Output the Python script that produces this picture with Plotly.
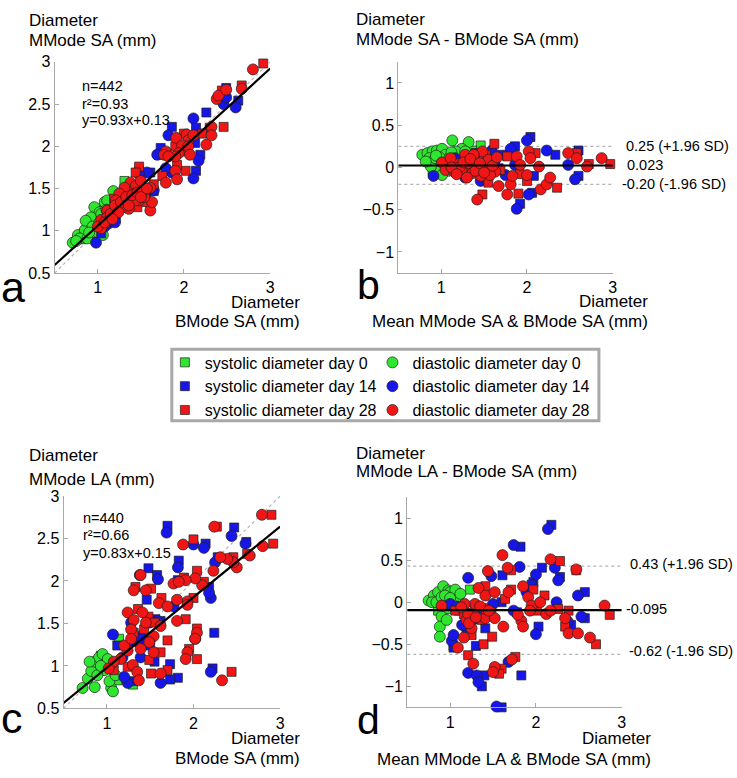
import plotly.graph_objects as go

W, H = 737, 778
FONT = "Liberation Sans, Arial, Helvetica, sans-serif"

# ---------------- data ----------------
SERIES = ["systolic diameter day 0", "diastolic diameter day 0",
          "systolic diameter day 14", "diastolic diameter day 14",
          "systolic diameter day 28", "diastolic diameter day 28"]
COLORS = ["#2fe62f", "#2fe62f", "#1616e8", "#1616e8", "#f01616", "#f01616"]
SYMBOLS = ["square", "circle", "square", "circle", "square", "circle"]

# panel a: MMode SA vs BMode SA
A_SYS0_X = [1.31, 1.13, 1.08, 0.90, 0.85, 1.00, 0.81, 1.04, 0.94]
A_SYS0_Y = [1.59, 1.34, 1.28, 1.03, 0.97, 1.13, 0.90, 1.05, 0.97]
A_DIA0_X = [0.71, 0.77, 0.83, 0.88, 0.92, 0.96, 1.02, 1.08, 1.18, 1.11, 0.85, 0.79, 0.88, 0.96, 1.06, 0.98, 0.92, 1.04, 0.86, 0.75, 1.00,
            0.94, 1.02, 0.90, 1.10]
A_DIA0_Y = [0.86, 0.95, 0.93, 1.04, 1.13, 1.28, 1.22, 1.34, 1.47, 1.36, 1.01, 0.91, 0.91, 1.01, 0.95, 1.09, 1.16, 1.20, 1.12, 0.88, 0.98,
            1.05, 1.10, 0.98, 1.25]
A_SYS14_X = [1.86, 2.26, 2.49, 2.63, 2.14, 2.13, 2.19, 2.14, 1.73, 1.71, 1.61, 1.48, 1.65, 1.27, 1.15, 1.04, 1.21, 1.50]
A_SYS14_Y = [2.23, 2.40, 2.69, 2.54, 2.22, 2.04, 1.90, 1.71, 1.98, 1.90, 1.69, 1.71, 1.47, 1.32, 1.13, 0.97, 1.15, 1.55]
A_DIA14_X = [1.82, 2.11, 2.46, 2.60, 2.49, 2.17, 2.11, 1.86, 1.79, 1.69, 1.57, 1.11, 0.98, 1.13, 1.23, 1.65, 1.48,
             1.20, 1.30, 1.40, 1.55, 1.08]
A_DIA14_Y = [2.13, 2.33, 2.50, 2.46, 2.58, 1.83, 1.62, 1.69, 1.74, 1.90, 1.69, 1.24, 0.86, 1.09, 1.24, 1.48, 1.67,
             1.10, 1.28, 1.32, 1.42, 1.05]
A_SYS28_X = [2.92, 2.67, 2.44, 2.46, 2.30, 2.00, 2.21, 2.03, 2.02, 1.92, 1.90, 1.75, 1.48, 1.44, 1.32, 1.19, 1.61, 1.54, 1.65, 1.46, 1.27, 1.08, 1.38, 1.54]
A_SYS28_Y = [2.98, 2.72, 2.66, 2.23, 2.22, 2.15, 2.15, 1.94, 1.71, 1.78, 2.00, 1.65, 1.76, 1.69, 1.47, 1.38, 1.29, 1.34, 1.55, 1.28, 1.40, 1.09, 1.36, 1.49]
A_DIA28_X = [2.80, 2.38, 2.40, 2.49, 2.67, 2.32, 2.32, 2.26, 2.03, 2.05, 1.91, 1.98, 1.94, 1.90, 2.05, 2.07, 2.11, 1.79, 1.77, 1.82,
             1.90, 1.92, 1.79, 1.61, 1.63, 1.38, 1.44, 1.42, 1.34, 1.31, 1.25, 1.21, 1.19, 1.11, 1.04, 1.04, 1.31, 1.48, 1.54, 1.36,
             1.29, 1.11, 1.00, 1.61, 1.50, 1.44, 1.15, 1.20, 1.27, 1.33, 1.40, 1.46, 1.52, 1.57, 1.24, 1.08, 1.17, 1.36, 1.50]
A_DIA28_Y = [2.91, 2.56, 2.60, 2.67, 2.68, 2.23, 2.13, 2.02, 2.14, 2.07, 2.10, 2.01, 1.92, 1.88, 2.00, 1.90, 2.13, 1.94, 1.90, 1.88,
             1.71, 1.61, 1.57, 1.24, 1.34, 1.57, 1.53, 1.44, 1.47, 1.51, 1.44, 1.36, 1.26, 1.24, 1.13, 1.03, 1.32, 1.36, 1.40, 1.26,
             1.28, 1.16, 1.05, 1.51, 1.59, 1.36, 1.20, 1.30, 1.34, 1.40, 1.42, 1.45, 1.47, 1.50, 1.22, 1.10, 1.14, 1.30, 1.40]
A_SLOPE, A_INTERCEPT = 0.93, 0.13

# panel b: Bland-Altman MMode SA vs BMode SA
B_SYS0_X = [1.46, 1.36, 0.99, 0.90, 1.05]
B_SYS0_Y = [0.26, 0.20, 0.05, -0.03, -0.05]
B_DIA0_X = [0.78, 0.84, 0.90, 0.95, 1.01, 1.13, 1.32, 1.24, 1.17, 0.86, 0.91, 0.97, 1.01, 0.88, 0.93, 1.05, 1.28, 1.09, 0.82,
            0.98, 1.06, 0.94, 1.12]
B_DIA0_Y = [0.15, 0.17, 0.19, 0.20, 0.22, 0.32, 0.30, 0.22, 0.19, 0.11, 0.05, -0.01, -0.09, 0.01, 0.11, 0.15, 0.19, 0.11, 0.07,
            0.12, 0.03, 0.14, 0.18]
B_SYS14_X = [2.04, 1.86, 2.33, 2.60, 2.60, 1.92, 2.06, 1.71, 2.08, 1.67, 1.40]
B_SYS14_Y = [0.36, 0.25, 0.15, 0.20, -0.10, -0.43, -0.30, 0.15, -0.10, -0.01, 0.17]
B_DIA14_X = [0.91, 1.13, 1.59, 1.81, 2.00, 2.23, 2.48, 2.56, 1.88, 2.02, 1.46, 1.75, 1.28, 1.86, 1.16, 1.20, 1.35, 1.50, 1.62]
B_DIA14_Y = [-0.10, 0.03, 0.20, 0.22, 0.32, 0.20, 0.03, -0.14, -0.49, -0.32, -0.16, -0.09, -0.12, 0.03, 0.11, 0.08, 0.00, -0.12, 0.06]
B_SYS28_X = [1.62, 1.77, 2.10, 2.35, 1.90, 1.48, 2.97, 2.58, 2.72, 1.55, 1.69, 1.40, 1.32, 1.52, 1.19, 2.00]
B_SYS28_Y = [0.28, 0.13, 0.17, -0.24, -0.31, -0.32, 0.04, 0.17, 0.04, -0.18, -0.03, 0.07, -0.01, 0.15, 0.05, -0.16]
B_DIA28_X = [1.01, 1.11, 1.21, 1.28, 1.32, 1.36, 1.42, 1.48, 1.53, 1.59, 1.63, 1.57, 1.42, 1.67, 1.77, 1.81, 1.88, 1.92, 2.00,
             2.02, 2.04, 2.14, 2.16, 2.23, 2.27, 2.48, 2.58, 2.70, 2.87, 1.05, 1.15, 1.24, 1.38, 1.46, 1.55, 1.22, 1.92, 1.83,
             1.12, 1.18, 1.26, 1.30, 1.34, 1.40, 1.45, 1.50, 1.60, 1.65]
B_DIA28_Y = [0.06, 0.11, -0.01, 0.15, 0.05, -0.07, 0.03, 0.19, -0.01, 0.09, -0.05, -0.09, -0.38, -0.22, -0.32, -0.20, 0.13, -0.07, -0.09,
             0.19, 0.11, 0.01, -0.26, -0.20, -0.12, 0.17, 0.11, 0.01, 0.11, -0.03, -0.05, -0.05, 0.15, -0.10, 0.09, 0.01, 0.03, -0.10,
             0.00, -0.08, 0.06, -0.12, 0.10, -0.04, 0.05, -0.06, 0.02, 0.12]
B_MEAN, B_UPPER, B_LOWER = 0.023, 0.25, -0.20

# panel c: MMode LA vs BMode SA
C_SYS0_X = [1.14, 1.30, 0.99, 0.84, 1.12, 0.93, 1.05]
C_SYS0_Y = [1.32, 0.78, 1.04, 0.94, 0.83, 1.12, 0.97]
C_DIA0_X = [0.72, 0.78, 0.82, 0.86, 0.91, 0.95, 1.01, 1.05, 1.03, 1.07, 0.97, 0.89, 0.86, 0.93, 1.10, 0.80]
C_DIA0_Y = [0.74, 0.85, 0.94, 1.05, 1.10, 1.14, 1.08, 0.74, 0.82, 0.70, 0.95, 0.89, 0.75, 1.00, 0.89, 1.05]
C_SYS14_X = [1.70, 2.14, 2.47, 2.61, 2.28, 2.18, 1.48, 1.58, 1.83, 1.82, 1.46, 2.24, 2.22, 1.73, 1.82, 1.73, 1.55, 1.30, 1.56, 1.62,
             1.31, 1.50, 1.43, 1.12]
C_SYS14_Y = [2.65, 2.44, 2.63, 2.46, 2.28, 1.93, 2.15, 2.07, 2.24, 2.01, 1.78, 1.39, 0.97, 1.02, 0.86, 0.84, 1.05, 0.82, 1.55, 1.53,
             1.28, 1.24, 1.30, 1.24]
C_DIA14_X = [1.69, 2.00, 2.12, 2.44, 2.60, 2.25, 1.38, 1.59, 1.82, 1.77, 2.20, 2.18, 2.02, 2.20, 1.62, 1.24, 1.07, 1.28, 1.39, 1.49,
             1.58, 1.39, 1.18, 1.20]
C_DIA14_Y = [2.57, 2.43, 2.39, 2.53, 2.44, 2.22, 2.07, 2.02, 2.16, 1.70, 1.80, 1.86, 1.32, 0.93, 0.80, 0.80, 1.37, 1.51, 1.35, 1.51,
             1.53, 1.10, 1.10, 0.87]
C_SYS28_X = [2.90, 2.92, 2.62, 2.46, 2.27, 2.00, 2.04, 1.89, 2.00, 2.12, 1.91, 2.04, 1.95, 2.04, 2.44, 1.70, 1.51, 1.51, 1.33, 1.63,
             1.36, 1.48, 1.55, 1.70, 1.49, 1.62, 1.08, 1.24, 1.43, 1.31]
C_SYS28_Y = [2.78, 2.44, 2.32, 2.28, 2.64, 2.49, 2.12, 2.04, 1.80, 1.99, 1.55, 1.44, 1.20, 1.08, 0.93, 0.95, 0.91, 1.91, 1.93, 1.80,
             1.67, 1.58, 1.51, 1.30, 1.07, 1.16, 0.95, 0.99, 1.43, 1.39]
C_DIA28_X = [2.79, 2.80, 2.65, 2.50, 2.46, 2.39, 2.31, 2.24, 1.88, 2.23, 2.10, 2.02, 1.91, 1.77, 1.83, 1.93, 1.93, 1.81, 2.04, 2.02,
             1.93, 1.91, 2.33, 1.62, 1.39, 1.45, 1.31, 1.60, 1.24, 1.41, 1.31, 1.28, 1.45, 1.54, 1.49, 1.39, 1.30, 1.35, 1.37, 1.24,
             1.16, 1.08, 1.02, 1.20, 1.54, 1.62, 1.28, 1.70, 1.81]
C_DIA28_Y = [2.78, 2.41, 2.30, 2.16, 2.22, 2.26, 2.28, 2.64, 2.43, 2.12, 1.95, 2.03, 2.01, 1.97, 1.99, 1.76, 1.72, 1.53, 1.39, 1.32,
             1.16, 1.08, 0.83, 0.91, 2.07, 1.89, 1.89, 1.74, 1.63, 1.63, 1.54, 1.43, 1.51, 1.35, 1.28, 1.20, 1.01, 0.93, 0.83, 1.18,
             1.08, 1.05, 0.97, 1.24, 1.16, 1.47, 1.32, 1.70, 1.78]
C_SLOPE, C_INTERCEPT = 0.83, 0.15

# panel d: Bland-Altman MMode LA vs BMode SA
D_SYS0_X = [1.23, 1.04, 0.98, 1.10, 0.86, 1.00]
D_SYS0_Y = [0.15, -0.52, -0.08, 0.00, -0.10, 0.10]
D_DIA0_X = [0.75, 0.81, 0.86, 0.92, 0.98, 1.04, 1.10, 0.94, 0.90, 0.88, 0.88, 0.96, 0.79, 0.84, 1.02, 1.08, 0.96, 0.90,
            1.00, 1.06, 0.94, 1.00, 1.12]
D_DIA0_Y = [0.02, 0.08, 0.12, 0.19, 0.14, 0.10, 0.08, -0.02, -0.17, -0.29, -0.41, -0.21, 0.00, 0.00, 0.04, 0.02, 0.08, 0.06,
            0.12, 0.15, 0.08, 0.05, 0.10]
D_SYS14_X = [2.18, 1.82, 2.07, 2.28, 2.57, 1.61, 1.97, 2.03, 2.41, 2.57, 1.40, 1.37, 1.30, 1.41, 1.83, 1.60, 1.04, 1.78, 1.60, 1.19,
             1.95, 1.10]
D_SYS14_Y = [0.92, 0.66, 0.41, 0.30, 0.12, 0.32, 0.24, -0.29, -0.27, -0.19, -0.87, -1.00, -0.52, -0.31, -0.87, -1.25, -0.54, -0.12,
             0.00, -0.37, 0.21, -0.10]
D_DIA14_X = [2.14, 1.74, 1.81, 2.00, 2.22, 2.26, 2.49, 1.21, 1.48, 1.89, 1.74, 2.00, 2.24, 2.37, 2.53, 1.02, 1.21, 1.31, 1.33, 1.54,
             1.68, 1.04, 1.14, 1.25, 1.50, 1.00, 1.08, 1.18, 1.28, 1.38]
D_DIA14_Y = [0.87, 0.68, 0.42, 0.33, 0.41, 0.26, 0.08, 0.29, 0.31, 0.12, -0.10, -0.38, 0.00, -0.23, -0.17, -0.46, -0.84, -0.87, -0.95,
             -1.24, -0.71, -0.39, -0.27, -0.15, -0.02, -0.02, -0.05, -0.12, -0.20, -0.08]
D_SYS28_X = [2.28, 2.47, 1.71, 1.41, 1.71, 2.10, 2.01, 2.38, 2.86, 2.70, 2.34, 1.76, 1.60, 1.57, 1.21, 1.39, 1.49, 1.25, 1.37, 1.48,
             1.64, 1.06, 1.16, 1.97, 2.26, 1.29]
D_SYS28_Y = [0.49, 0.38, 0.38, 0.19, 0.15, 0.08, -0.10, -0.10, -0.15, -0.50, -0.29, -0.65, -0.79, -0.85, -0.63, -0.50, -0.41, -0.39,
             -0.21, -0.12, 0.04, -0.10, -0.14, 0.15, -0.08, -0.10]
D_DIA28_X = [1.61, 1.67, 1.44, 2.17, 2.47, 1.85, 1.91, 1.95, 2.05, 2.80, 2.34, 2.38, 2.49, 2.63, 1.83, 1.85, 1.79, 1.68, 1.52, 1.50,
             1.72, 1.27, 1.09, 1.16, 1.25, 1.19, 1.41, 1.52, 1.62, 1.41, 1.33, 1.29, 1.17, 1.21, 1.41, 0.90, 2.12, 2.17, 1.93, 1.52,
             1.13, 1.22, 1.30, 1.35, 1.45]
D_DIA28_Y = [0.56, 0.41, 0.37, 0.51, 0.39, 0.19, 0.06, -0.04, 0.00, -0.04, -0.19, -0.37, -0.37, -0.42, -0.22, -0.29, -0.15, 0.12,
             -0.77, -0.83, -0.68, -0.73, -0.54, -0.42, -0.31, -0.21, -0.19, -0.19, -0.29, 0.08, 0.17, -0.02, -0.02, -0.14, -0.08,
             -0.04, -0.14, -0.10, -0.10, 0.12, -0.06, -0.25, -0.18, -0.05, -0.10]
D_MEAN, D_UPPER, D_LOWER = -0.095, 0.43, -0.62

X_TICKS = [1, 2, 3]
Y_TICKS_SCATTER = [0.5, 1, 1.5, 2, 2.5, 3]
Y_TICKS_BA = [-1, -0.5, 0, 0.5, 1]
X_RANGE = [0.5, 3]
Y_RANGE_BA = [-1.25, 1.25]

# ---------------- helpers ----------------
def px(x):
    return x / W

def py(y):
    return 1 - y / H

fig = go.Figure()

panels = [
    ("x", "y", [(A_SYS0_X, A_SYS0_Y), (A_DIA0_X, A_DIA0_Y), (A_SYS14_X, A_SYS14_Y),
                (A_DIA14_X, A_DIA14_Y), (A_SYS28_X, A_SYS28_Y), (A_DIA28_X, A_DIA28_Y)]),
    ("x2", "y2", [(B_SYS0_X, B_SYS0_Y), (B_DIA0_X, B_DIA0_Y), (B_SYS14_X, B_SYS14_Y),
                  (B_DIA14_X, B_DIA14_Y), (B_SYS28_X, B_SYS28_Y), (B_DIA28_X, B_DIA28_Y)]),
    ("x3", "y3", [(C_SYS0_X, C_SYS0_Y), (C_DIA0_X, C_DIA0_Y), (C_SYS14_X, C_SYS14_Y),
                  (C_DIA14_X, C_DIA14_Y), (C_SYS28_X, C_SYS28_Y), (C_DIA28_X, C_DIA28_Y)]),
    ("x4", "y4", [(D_SYS0_X, D_SYS0_Y), (D_DIA0_X, D_DIA0_Y), (D_SYS14_X, D_SYS14_Y),
                  (D_DIA14_X, D_DIA14_Y), (D_SYS28_X, D_SYS28_Y), (D_DIA28_X, D_DIA28_Y)]),
]

DOT = dict(color="#b4b4b4", width=1.2, dash="dot")
SOLID = dict(color="black", width=2.2)

# reference lines drawn beneath the points
fig.add_trace(go.Scatter(x=X_RANGE, y=X_RANGE, mode="lines", line=DOT, xaxis="x", yaxis="y",
                         showlegend=False, hoverinfo="skip"))
fig.add_trace(go.Scatter(x=X_RANGE, y=X_RANGE, mode="lines", line=DOT, xaxis="x3", yaxis="y3",
                         showlegend=False, hoverinfo="skip"))
for xa, ya, lim in (("x2", "y2", B_UPPER), ("x2", "y2", B_LOWER), ("x4", "y4", D_UPPER), ("x4", "y4", D_LOWER)):
    fig.add_trace(go.Scatter(x=X_RANGE, y=[lim, lim], mode="lines", line=DOT, xaxis=xa, yaxis=ya,
                             showlegend=False, hoverinfo="skip"))

for pi, (xa, ya, series) in enumerate(panels):
    for si, (xs, ys) in enumerate(series):
        is_sq = SYMBOLS[si] == "square"
        fig.add_trace(go.Scatter(
            x=xs, y=ys, mode="markers", name=SERIES[si], xaxis=xa, yaxis=ya,
            cliponaxis=False,
            marker=dict(symbol=SYMBOLS[si], color=COLORS[si], size=9 if is_sq else 11,
                        line=dict(color="#202020", width=0.7)),
            showlegend=(pi == 0), legend="legend" if is_sq else "legend2",
        ))

# regression / mean lines on top
fig.add_trace(go.Scatter(x=X_RANGE, y=[A_SLOPE * v + A_INTERCEPT for v in X_RANGE], mode="lines", line=SOLID,
                         xaxis="x", yaxis="y", showlegend=False, hoverinfo="skip"))
fig.add_trace(go.Scatter(x=X_RANGE, y=[C_SLOPE * v + C_INTERCEPT for v in X_RANGE], mode="lines", line=SOLID,
                         xaxis="x3", yaxis="y3", showlegend=False, hoverinfo="skip"))
fig.add_trace(go.Scatter(x=X_RANGE, y=[B_MEAN, B_MEAN], mode="lines", line=SOLID,
                         xaxis="x2", yaxis="y2", showlegend=False, hoverinfo="skip"))
fig.add_trace(go.Scatter(x=X_RANGE, y=[D_MEAN, D_MEAN], mode="lines", line=SOLID,
                         xaxis="x4", yaxis="y4", showlegend=False, hoverinfo="skip"))

AX_COLOR = "#a8a8a8"

def axis(dom, rng, ticks, anchor):
    return dict(domain=dom, range=rng, tickvals=ticks, anchor=anchor, showline=True, linecolor=AX_COLOR,
                linewidth=1, ticks="inside", ticklen=4, tickcolor=AX_COLOR, showgrid=False, zeroline=False,
                tickfont=dict(size=16, color="black", family=FONT), fixedrange=True)

layout = dict(
    width=W, height=H, margin=dict(l=0, r=0, t=0, b=0),
    paper_bgcolor="white", plot_bgcolor="white",
    font=dict(family=FONT, color="black"),
    xaxis=axis([px(55), px(272)], X_RANGE, X_TICKS, "y"),
    yaxis=axis([py(271), py(55)], X_RANGE, Y_TICKS_SCATTER, "x"),
    xaxis2=axis([px(401), px(617)], X_RANGE, X_TICKS, "y2"),
    yaxis2=axis([py(271), py(55)], Y_RANGE_BA, Y_TICKS_BA, "x2"),
    xaxis3=axis([px(64), px(282)], X_RANGE, X_TICKS, "y3"),
    yaxis3=axis([py(716), py(499)], X_RANGE, Y_TICKS_SCATTER, "x3"),
    xaxis4=axis([px(410), px(626)], X_RANGE, X_TICKS, "y4"),
    yaxis4=axis([py(715), py(500)], Y_RANGE_BA, Y_TICKS_BA, "x4"),
    showlegend=True,
    legend=dict(x=px(166), y=py(345), xanchor="left", yanchor="top", bgcolor="rgba(0,0,0,0)",
                borderwidth=0, font=dict(size=16, family=FONT, color="black"), tracegroupgap=0),
    legend2=dict(x=px(375), y=py(345), xanchor="left", yanchor="top", bgcolor="rgba(0,0,0,0)",
                 borderwidth=0, font=dict(size=16, family=FONT, color="black"), tracegroupgap=0),
    shapes=[dict(type="rect", xref="paper", yref="paper", x0=px(173), x1=px(603), y0=py(422), y1=py(349),
                 line=dict(color=AX_COLOR, width=3), layer="below")],
)
fig.update_layout(**layout)

def ann(text, x, y, xanchor="left", size=17, yanchor="middle"):
    fig.add_annotation(text=text, x=px(x), y=py(y), xref="paper", yref="paper", xanchor=xanchor,
                       yanchor=yanchor, showarrow=False, font=dict(size=size, family=FONT, color="black"))

# panel a
ann("Diameter", 27, 13)
ann("MMode SA (mm)", 27, 33)
ann("n=442", 81, 80, size=14.5)
ann("r²=0.93", 81, 98, size=14.5)
ann("y=0.93x+0.13", 81, 115, size=14.5)
ann("a", -1, 285, size=43)
ann("Diameter", 304, 301, xanchor="right")
ann("BMode SA (mm)", 304, 321, xanchor="right")
# panel b
ann("Diameter", 356, 12)
ann("MMode SA - BMode SA (mm)", 356, 32)
ann("b", 357, 283, size=41)
ann("Diameter", 654, 300, xanchor="right")
ann("Mean MMode SA & BMode SA (mm)", 654, 320, xanchor="right")
ann("0.25 (+1.96 SD)", 628, 141, size=14.5)
ann("0.023", 629, 160, size=14.5)
ann("-0.20 (-1.96 SD)", 624, 180, size=14.5)
# panel c
ann("Diameter", 27, 457)
ann("MMode LA (mm)", 27, 482)
ann("n=440", 82, 521, size=14.5)
ann("r²=0.66", 82, 539, size=14.5)
ann("y=0.83x+0.15", 82, 557, size=14.5)
ann("c", -1, 726, size=43)
ann("Diameter", 304, 747, xanchor="right")
ann("BMode SA (mm)", 304, 767, xanchor="right")
# panel d
ann("Diameter", 356, 455)
ann("MMode LA - BMode SA (mm)", 356, 474)
ann("d", 357, 728, size=41)
ann("Diameter", 657, 747, xanchor="right")
ann("Mean MMode LA & BMode SA (mm)", 657, 768, xanchor="right")
ann("0.43 (+1.96 SD)", 632, 568, size=14.5)
ann("-0.095", 628, 614, size=14.5)
ann("-0.62 (-1.96 SD)", 631, 657, size=14.5)

# the default page adds an 8px body margin; remove it so the figure fills the window exactly
fig.write_html("out.html", config={"displayModeBar": False},
               post_script="document.body.style.margin='0px';document.body.style.overflow='hidden';")
